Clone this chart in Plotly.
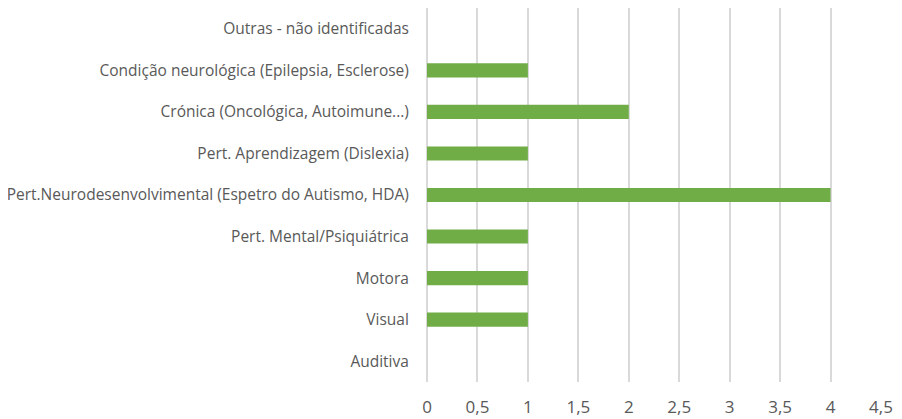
import plotly.graph_objects as go

categorias = ['Auditiva', 'Visual', 'Motora', 'Pert. Mental/Psiquiátrica',
              'Pert.Neurodesenvolvimental (Espetro do Autismo, HDA)',
              'Pert. Aprendizagem (Dislexia)', 'Crónica (Oncológica, Autoimune...)',
              'Condição neurológica (Epilepsia, Esclerose)', 'Outras - não identificadas']
valores = [0, 1, 1, 1, 4, 1, 2, 1, 0]
ticks_x = [0, 0.5, 1, 1.5, 2, 2.5, 3, 3.5, 4, 4.5]
ticks_txt = ['0', '0,5', '1', '1,5', '2', '2,5', '3', '3,5', '4', '4,5']

fig = go.Figure()
fig.add_trace(go.Bar(
    x=valores,
    y=categorias,
    orientation='h',
    marker=dict(color='#70AD47', line=dict(width=0)),
    showlegend=False,
))

# a página tem 8px de margem no body, por isso a figura é um pouco menor
fig.update_layout(
    width=894, height=411,
    margin=dict(l=419, r=21, t=0, b=37),
    plot_bgcolor='white', paper_bgcolor='white',
    bargap=0.66,
    font=dict(family='Open Sans', color='#595959'),
    xaxis=dict(range=[0, 4.5], tickvals=ticks_x, ticktext=ticks_txt,
               showgrid=True, gridcolor='#d9d9d9', gridwidth=2,
               zeroline=True, zerolinecolor='#d9d9d9', zerolinewidth=2,
               showline=False, automargin=False,
               ticks='outside', ticklen=10, tickcolor='white',
               tickfont=dict(size=17, family='Open Sans', color='#595959')),
    yaxis=dict(showgrid=False, zeroline=False, showline=False, automargin=False,
               ticks='outside', ticklen=14, tickcolor='white',
               tickfont=dict(size=15.5, family='Open Sans', color='#595959')),
)

fig.write_html("out.html")
